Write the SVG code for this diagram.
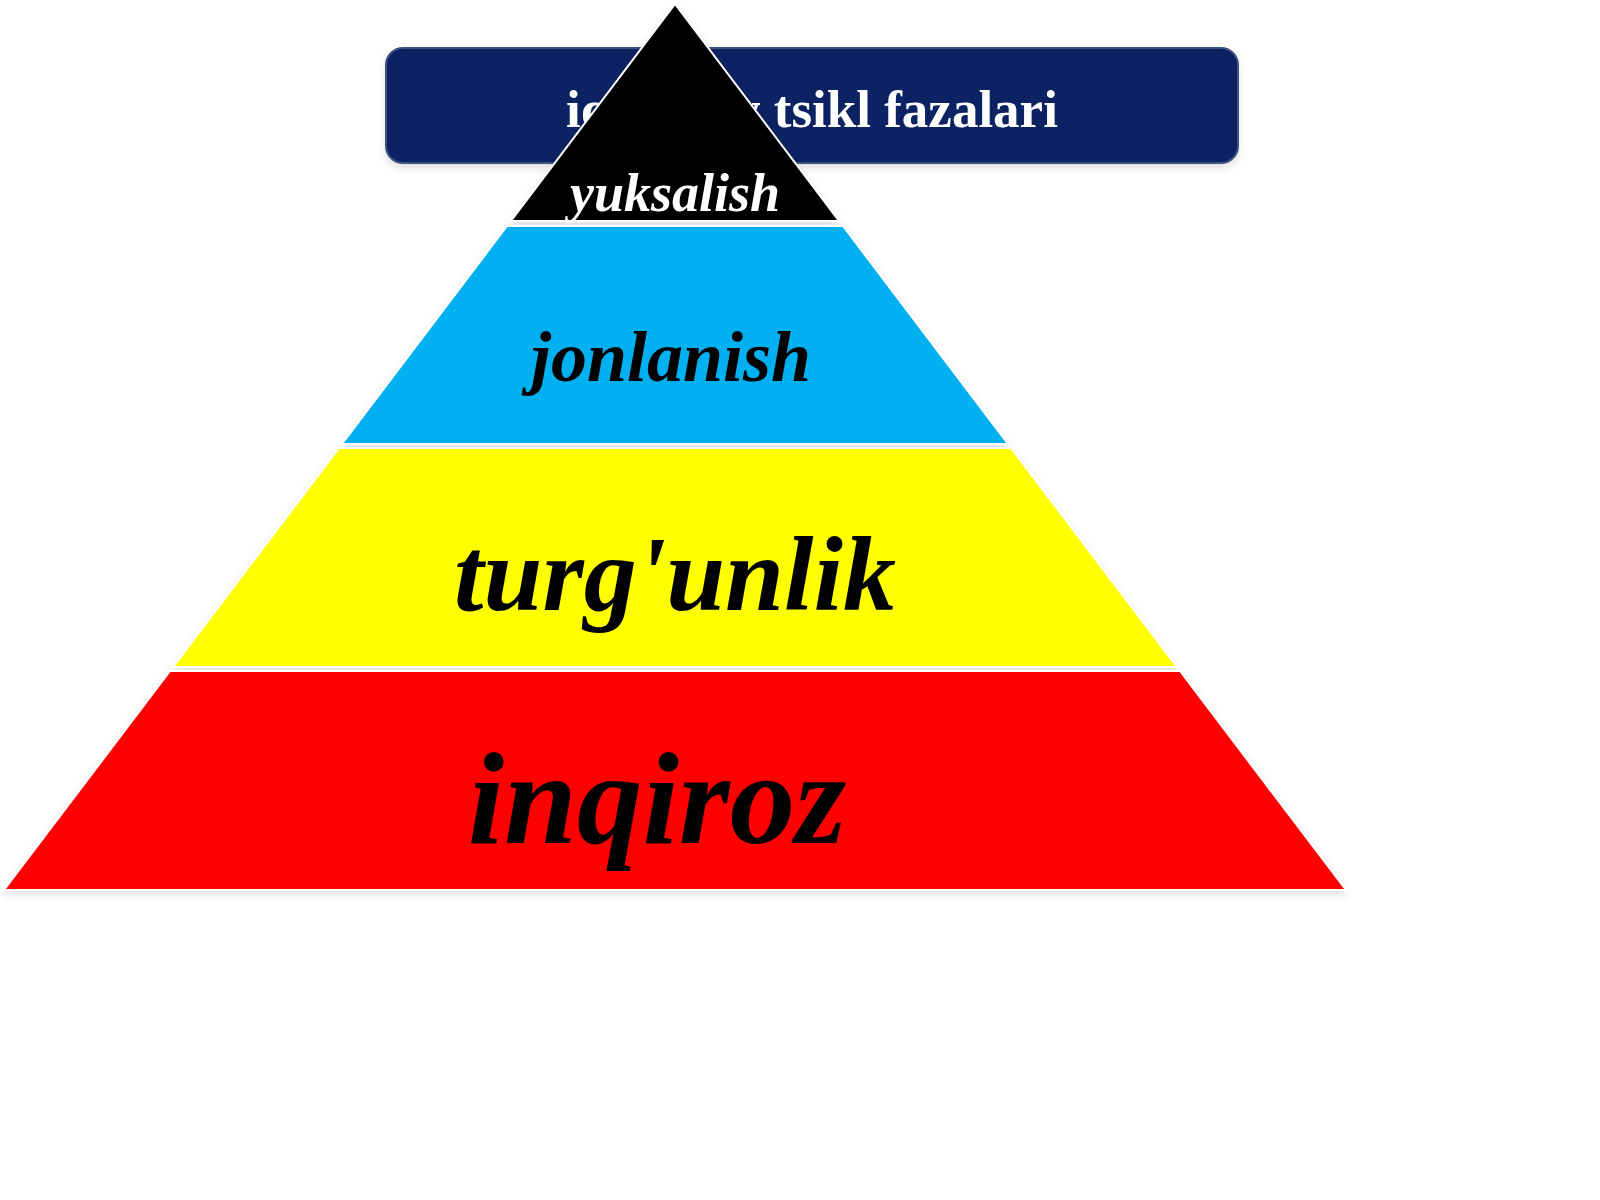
<svg xmlns="http://www.w3.org/2000/svg" width="1600" height="1200" viewBox="0 0 1600 1200">
  <defs>
    <filter id="shadow" x="-5%" y="-5%" width="110%" height="115%">
      <feDropShadow dx="0" dy="4" stdDeviation="4" flood-color="#000" flood-opacity="0.12"/>
    </filter>
    <style>
      .layer { stroke: #ffffff; stroke-width: 2; stroke-linejoin: miter; }
      .lbl { font-family: "Liberation Serif", "Times New Roman", serif; font-weight: bold; font-style: italic; text-anchor: middle; }
      .title { font-family: "Liberation Serif", "Times New Roman", serif; font-weight: bold; text-anchor: middle; fill: #ffffff; }
    </style>
  </defs>
  <rect width="1600" height="1200" fill="#ffffff"/>

  <g id="title" filter="url(#shadow)">
    <rect x="386" y="48" width="852" height="115" rx="17" ry="17" fill="#0a2163" stroke="#3d5180" stroke-width="2"/>
    <text class="title" x="812" y="127" font-size="53">iqtisodiy tsikl fazalari</text>
  </g>

  <g id="pyramid" filter="url(#shadow)">
    <g id="layer-inqiroz">
      <polygon class="layer" points="170,671 1180,671 1346,890 4,890" fill="#ff0000"/>
      <text class="lbl" x="657" y="843" font-size="131" fill="#000000">inqiroz</text>
    </g>
    <g id="layer-turgunlik">
      <polygon class="layer" points="339,448 1011,448 1177,667 173,667" fill="#ffff00"/>
      <text class="lbl" x="675" y="610" font-size="106" fill="#000000">turg'unlik</text>
    </g>
    <g id="layer-jonlanish">
      <polygon class="layer" points="507,226 843,226 1008,444 342,444" fill="#00b0f0"/>
      <text class="lbl" x="671" y="381" font-size="72" fill="#000000">jonlanish</text>
    </g>
    <g id="layer-yuksalish">
      <polygon class="layer" points="675,4 839,221 511,221" fill="#000000" stroke-width="3"/>
      <text class="lbl" x="675" y="211" font-size="54" fill="#ffffff">yuksalish</text>
    </g>
  </g>
  <g id="connectors"/>
</svg>
